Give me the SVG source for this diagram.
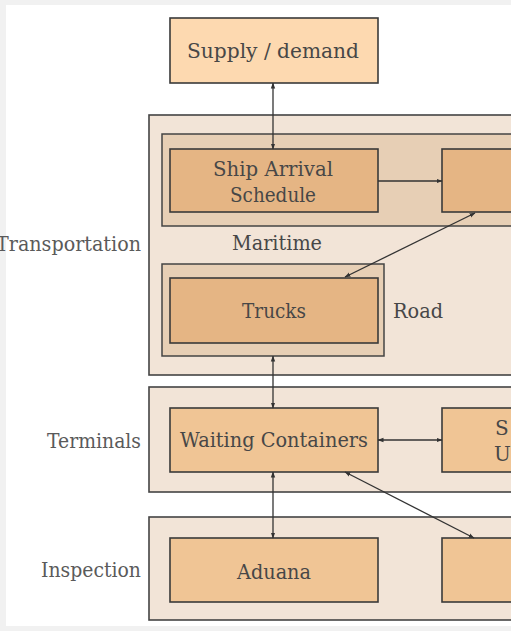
<svg xmlns="http://www.w3.org/2000/svg" width="511" height="631" viewBox="0 0 511 631">
<style>
.t{font-family:"DejaVu Serif","Liberation Serif",serif;font-size:20px;fill:#474747}
.l{font-family:"DejaVu Serif","Liberation Serif",serif;font-size:20px;fill:#5a5a5a}
.grp{fill:#f2e4d7;stroke:#444;stroke-width:1.6}
.sub{fill:#e7cfb5;stroke:#444;stroke-width:1.5}
.n1{fill:#fdd9b0;stroke:#3a3a3a;stroke-width:1.6}
.n2{fill:#e5b584;stroke:#3a3a3a;stroke-width:1.6}
.n3{fill:#f0c595;stroke:#3a3a3a;stroke-width:1.6}
.c{stroke:#333;stroke-width:1.3;fill:none}
</style>
<defs>
<marker id="ah" viewBox="0 0 6 6" refX="5.5" refY="3" markerWidth="6" markerHeight="6" markerUnits="userSpaceOnUse" orient="auto-start-reverse">
<path d="M0,0.8 L6,3 L0,5.2 Z" fill="#333"/>
</marker>
</defs>
<rect x="0" y="0" width="511" height="631" fill="#f1f1f1"/>
<rect x="6" y="5" width="505" height="621" fill="#ffffff"/>

<g id="transportation">
<rect class="grp" x="149" y="115" width="480" height="260"/>
<text class="l" x="-4" y="251" textLength="145" lengthAdjust="spacingAndGlyphs">Transportation</text>
</g>
<g id="maritime">
<rect class="sub" x="162" y="134" width="460" height="92"/>
<text class="t" x="232" y="250" textLength="90" lengthAdjust="spacingAndGlyphs">Maritime</text>
</g>
<g id="road">
<rect class="sub" x="162" y="264" width="222" height="92"/>
<text class="t" x="393" y="318" textLength="50" lengthAdjust="spacingAndGlyphs">Road</text>
</g>
<g id="terminals">
<rect class="grp" x="149" y="387" width="480" height="105"/>
<text class="l" x="47" y="448" textLength="94" lengthAdjust="spacingAndGlyphs">Terminals</text>
</g>
<g id="inspection">
<rect class="grp" x="149" y="517" width="480" height="103"/>
<text class="l" x="41" y="577" textLength="100" lengthAdjust="spacingAndGlyphs">Inspection</text>
</g>

<g id="supply">
<rect class="n1" x="170" y="18" width="208" height="65"/>
<text class="t" x="187" y="58" textLength="172" lengthAdjust="spacingAndGlyphs">Supply / demand</text>
</g>
<g id="ship-arrival">
<rect class="n2" x="170" y="149" width="208" height="63"/>
<text class="t" x="213" y="176" textLength="120" lengthAdjust="spacingAndGlyphs">Ship Arrival</text>
<text class="t" x="230" y="202" textLength="86" lengthAdjust="spacingAndGlyphs">Schedule</text>
</g>
<g id="maritime-right">
<rect class="n2" x="442" y="149" width="208" height="63"/>
</g>
<g id="trucks">
<rect class="n2" x="170" y="278" width="208" height="65" stroke-width="2.6"/>
<text class="t" x="242" y="318" textLength="64" lengthAdjust="spacingAndGlyphs">Trucks</text>
</g>
<g id="waiting">
<rect class="n3" x="170" y="408" width="208" height="64"/>
<text class="t" x="180" y="447" textLength="188" lengthAdjust="spacingAndGlyphs">Waiting Containers</text>
</g>
<g id="terminal-right">
<rect class="n3" x="442" y="408" width="208" height="64"/>
<text class="t" x="495" y="435">S</text>
<text class="t" x="494" y="461">U</text>
</g>
<g id="aduana">
<rect class="n3" x="170" y="538" width="208" height="64"/>
<text class="t" x="237" y="579" textLength="74" lengthAdjust="spacingAndGlyphs">Aduana</text>
</g>
<g id="inspection-right">
<rect class="n3" x="442" y="538" width="208" height="64"/>
</g>

<g id="connectors">
<line class="c" x1="273" y1="83" x2="273" y2="149" marker-start="url(#ah)" marker-end="url(#ah)"/>
<line class="c" x1="378" y1="181" x2="442" y2="181" marker-end="url(#ah)"/>
<line class="c" x1="475" y1="213" x2="345" y2="277" marker-start="url(#ah)" marker-end="url(#ah)"/>
<line class="c" x1="273" y1="356" x2="273" y2="408" marker-start="url(#ah)" marker-end="url(#ah)"/>
<line class="c" x1="378" y1="440" x2="442" y2="440" marker-start="url(#ah)" marker-end="url(#ah)"/>
<line class="c" x1="273" y1="472" x2="273" y2="538" marker-start="url(#ah)" marker-end="url(#ah)"/>
<line class="c" x1="345" y1="472" x2="474" y2="538" marker-start="url(#ah)" marker-end="url(#ah)"/>
</g>
</svg>
